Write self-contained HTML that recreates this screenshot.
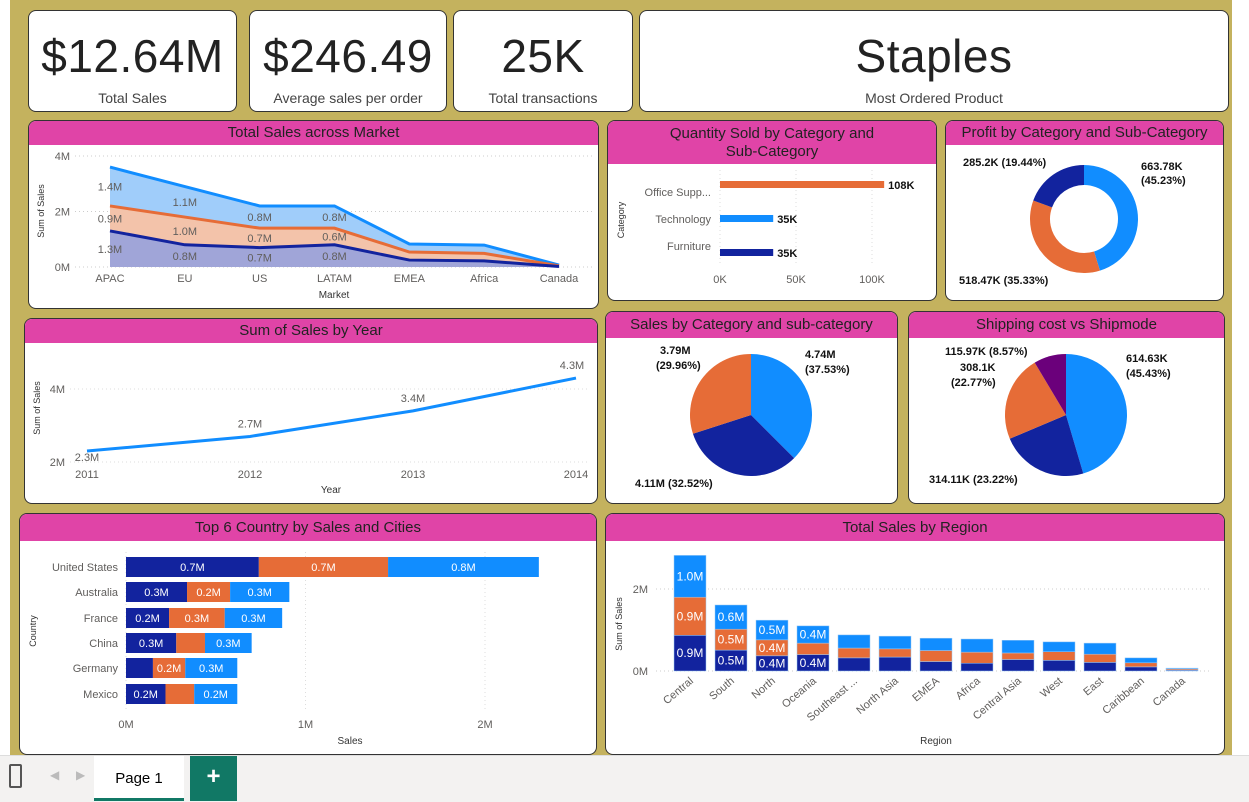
<!DOCTYPE html>
<html><head><meta charset="utf-8">
<style>
*{box-sizing:border-box;margin:0;padding:0}
body{width:1249px;height:802px;overflow:hidden;background:#fff;font-family:"Liberation Sans",sans-serif;position:relative}
#canvas{position:absolute;left:10px;top:0;width:1222px;height:755px;background:#c4b25e}
.card{position:absolute;background:#fff;border:1px solid #333;border-radius:8px;overflow:hidden}
.hdr{background:#e044a7;color:#222;text-align:center;font-size:15px;line-height:24px}
.kv{position:absolute;width:100%;text-align:center;font-size:46px;top:18px;color:#222;letter-spacing:0.5px}
.kl{position:absolute;width:100%;text-align:center;font-size:14px;top:79px;color:#444}
svg{position:absolute;left:0;top:0}
#bottom{position:absolute;left:0;top:755px;width:1249px;height:47px;background:#f3f2f1;border-top:1px solid #ddd}
</style></head><body>
<div id="canvas"></div>
<div class="card" style="left:28px;top:10px;width:209px;height:102px"><div class="kv">$12.64M</div><div class="kl">Total Sales</div></div>
<div class="card" style="left:249px;top:10px;width:198px;height:102px"><div class="kv">$246.49</div><div class="kl">Average sales per order</div></div>
<div class="card" style="left:453px;top:10px;width:180px;height:102px"><div class="kv">25K</div><div class="kl">Total transactions</div></div>
<div class="card" style="left:639px;top:10px;width:590px;height:102px"><div class="kv">Staples</div><div class="kl">Most Ordered Product</div></div>

<div class="card" style="left:28px;top:120px;width:571px;height:189px"><div class="hdr">Total Sales across Market</div></div>
<div class="card" style="left:607px;top:120px;width:330px;height:181px"><div class="hdr" style="height:43px;line-height:18px;padding-top:4px">Quantity Sold by Category and<br>Sub-Category</div></div>
<div class="card" style="left:945px;top:120px;width:279px;height:181px"><div class="hdr">Profit by Category and Sub-Category</div></div>
<div class="card" style="left:24px;top:318px;width:574px;height:186px"><div class="hdr">Sum of Sales by Year</div></div>
<div class="card" style="left:605px;top:311px;width:293px;height:193px"><div class="hdr" style="line-height:26px;height:26px">Sales by Category and sub-category</div></div>
<div class="card" style="left:908px;top:311px;width:317px;height:193px"><div class="hdr" style="line-height:26px;height:26px">Shipping cost vs Shipmode</div></div>
<div class="card" style="left:19px;top:513px;width:578px;height:242px"><div class="hdr" style="line-height:27px;height:27px">Top 6 Country by Sales and Cities</div></div>
<div class="card" style="left:605px;top:513px;width:620px;height:242px"><div class="hdr" style="line-height:27px;height:27px">Total Sales by Region</div></div>

<div id="bottom">
<div style="position:absolute;left:9px;top:8px;width:13px;height:24px;border:2px solid #555;border-radius:2px"></div>
<div style="position:absolute;left:50px;top:12px;color:#bbb;font-size:12px">◀</div>
<div style="position:absolute;left:76px;top:12px;color:#bbb;font-size:12px">▶</div>
<div style="position:absolute;left:94px;top:0;width:90px;height:45px;background:#fff;border-bottom:3px solid #117865;text-align:center;line-height:45px;font-size:15px">Page 1</div>
<div style="position:absolute;left:190px;top:0;width:47px;height:45px;background:#117865;color:#fff;text-align:center;line-height:42px;font-size:24px;font-weight:bold">+</div>
</div>

<svg id="s" width="1249" height="802"></svg>
<script>
const NAVY='#12239e',ORANGE='#e66c37',BLUE='#118dff',PURPLE='#6b007b';
// Market
const markets=['APAC','EU','US','LATAM','EMEA','Africa','Canada'];
const mkNavy=[1.3,0.8,0.7,0.8,0.25,0.22,0.02];
const mkOrange=[0.9,1.0,0.7,0.6,0.29,0.27,0.02];
const mkBlue=[1.4,1.1,0.8,0.8,0.29,0.30,0.03];
const mkTicks=[0,2,4];
// Year
const years=['2011','2012','2013','2014'];
const yearSales=[2.3,2.7,3.4,4.3];
const yearTicks=[2,4];
// Quantity
const qtyCats=['Office Supp...','Technology','Furniture'];
const qtyVals=[108,35,35];
const qtyTicks=[0,50,100];
// Profit donut
const profitVals=[663.78,518.47,285.2];
// Sales pie
const salesPieVals=[4.74,4.11,3.79];
// Shipping pie
const shipVals=[614.63,314.11,308.1,115.97];
// Country
const countries=['United States','Australia','France','China','Germany','Mexico'];
const ctNavy=[0.74,0.34,0.24,0.28,0.15,0.22];
const ctOrange=[0.72,0.24,0.31,0.16,0.18,0.16];
const ctBlue=[0.84,0.33,0.32,0.26,0.29,0.24];
const ctTicks=[0,1,2];
// Region
const regions=['Central','South','North','Oceania','Southeast ...','North Asia','EMEA','Africa','Central Asia','West','East','Caribbean','Canada'];
const rgNavy=[0.87,0.51,0.37,0.40,0.32,0.34,0.23,0.19,0.28,0.26,0.21,0.10,0.02];
const rgOrange=[0.93,0.51,0.39,0.28,0.24,0.20,0.27,0.27,0.16,0.21,0.20,0.10,0.03];
const rgBlue=[1.02,0.59,0.48,0.42,0.32,0.31,0.30,0.32,0.31,0.24,0.27,0.12,0.02];
const rgTicks=[0,2];

const S=document.getElementById('s');const NS='http://www.w3.org/2000/svg';
function mk(t,a,txt){const e=document.createElementNS(NS,t);for(const k in a)e.setAttribute(k,a[k]);if(txt!==undefined)e.textContent=txt;S.appendChild(e);return e;}
function fmt(v){return v.toFixed(1)+'M';}
function T(x,y,s,o){o=o||{};return mk('text',Object.assign({x:x,y:y,'font-size':o.fs||11,fill:o.fill||'#605e5c','text-anchor':o.a||'middle','font-family':'Liberation Sans, sans-serif','font-weight':o.fw||'normal'},o.tr?{transform:o.tr}:{}),s);}

// ---- Market area chart
{const mx=i=>110+i*(559-110)/6, my=v=>267-v*27.75;
mkTicks.forEach(t=>{mk('line',{x1:75,x2:592,y1:my(t),y2:my(t),stroke:'#ccc','stroke-dasharray':'1 3'});
const e=T(70,my(t)+4,t+'M',{a:'end'});});
const c1=mkNavy,c2=mkNavy.map((v,i)=>v+mkOrange[i]),c3=c2.map((v,i)=>v+mkBlue[i]);
const layers=[[c2,c3,'#a0cdfa',BLUE],[c1,c2,'#f3c3aa',ORANGE],[null,c1,'#a0a5d8',NAVY]];
layers.forEach(([lo,hi,f,s],li)=>{let d='';hi.forEach((v,i)=>d+=(i?'L':'M')+mx(i)+','+my(v));
for(let i=markets.length-1;i>=0;i--)d+='L'+mx(i)+','+my(lo?lo[i]:0);
const a=mk('path',{d:d+'Z',fill:f});});
[[c3,BLUE],[c2,ORANGE],[c1,NAVY]].forEach(([arr,s],li)=>{const l=mk('polyline',{points:arr.map((v,i)=>mx(i)+','+my(v)).join(' '),fill:'none',stroke:s,'stroke-width':3});});
markets.forEach((m,i)=>{const e=T(mx(i),282,m);
if(i<4){[[mkNavy,0,c1],[mkOrange,c1,c2],[mkBlue,c2,c3]].forEach(([arr,lo,hi])=>{const l=(lo?lo[i]:0);const v=T(mx(i),my((l+hi[i])/2)+4,fmt(arr[i]));});}});
const xt=T(334,298,'Market',{fs:10,fill:'#333'});
const yt=T(0,0,'Sum of Sales',{fs:9,fill:'#333',tr:'translate(44,211) rotate(-90)'});}

// ---- Year line
{const yx=i=>87+i*(576-87)/3, yy=v=>462-(v-2)*36.5;
yearTicks.forEach(t=>{mk('line',{x1:70,x2:590,y1:yy(t),y2:yy(t),stroke:'#ddd','stroke-dasharray':'1 3'});const e=T(65,yy(t)+4,t+'M',{a:'end'});});
const l=mk('polyline',{points:yearSales.map((v,i)=>yx(i)+','+yy(v)).join(' '),fill:'none',stroke:BLUE,'stroke-width':3});
years.forEach((y,i)=>{const e=T(yx(i),478,y);
const v=T(yx(i)-(i==3?4:0),yy(yearSales[i])-(i==0?-10:9),yearSales[i].toFixed(1)+'M');});
const xt=T(331,493,'Year',{fs:10,fill:'#333'});
const yt=T(0,0,'Sum of Sales',{fs:9,fill:'#333',tr:'translate(40,408) rotate(-90)'});}

// ---- Quantity bars
{const qx=v=>720+v*1.52, cols=[ORANGE,BLUE,NAVY], ys=[185,219,253];
qtyTicks.forEach(t=>{mk('line',{x1:qx(t),x2:qx(t),y1:170,y2:265,stroke:'#ddd','stroke-dasharray':'1 3'});const e=T(qx(t),283,t+'K');});
qtyCats.forEach((c,i)=>{const r=mk('rect',{x:720,y:ys[i]-4,width:qx(qtyVals[i])-720,height:7,fill:cols[i]});
const e=T(711,ys[i]+(i==0?11:4)-(i==2?7:0),c,{a:'end'});
const v=T(qx(qtyVals[i])+4,ys[i]+4,qtyVals[i]+'K',{a:'start',fill:'#111',fw:'bold'});});
const yt=T(0,0,'Category',{fs:9,fill:'#333',tr:'translate(624,220) rotate(-90)'});}

// ---- Pie helper
function pie(cx,cy,rx,ry,ir,vals,cols,name){const tot=vals.reduce((a,b)=>a+b,0);let a0=-Math.PI/2;
vals.forEach((v,i)=>{const a1=a0+v/tot*2*Math.PI, lg=(a1-a0)>Math.PI?1:0;
const P=(a,r1,r2)=>(cx+r1*Math.cos(a))+','+(cy+r2*Math.sin(a));
let d;if(ir){d='M'+P(a0,rx,ry)+'A'+rx+','+ry+' 0 '+lg+' 1 '+P(a1,rx,ry)+'L'+P(a1,ir,ir)+'A'+ir+','+ir+' 0 '+lg+' 0 '+P(a0,ir,ir)+'Z';}
else d='M'+cx+','+cy+'L'+P(a0,rx,ry)+'A'+rx+','+ry+' 0 '+lg+' 1 '+P(a1,rx,ry)+'Z';
const p=mk('path',{d:d,fill:cols[i]});a0=a1;});}
pie(1084,219,54,54,34,profitVals,[BLUE,ORANGE,NAVY],'profit-donut-slice');
pie(751,415,61,61,0,salesPieVals,[BLUE,NAVY,ORANGE],'sales-pie-slice');
pie(1066,415,61,61,0,shipVals,[BLUE,NAVY,ORANGE,PURPLE],'shipping-pie-slice');
const B={fill:'#111',fw:'bold'};
[[1141,170,'663.78K'],[1141,184,'(45.23%)'],[963,166,'285.2K (19.44%)'],[959,284,'518.47K (35.33%)'],
[805,358,'4.74M'],[805,373,'(37.53%)'],[660,354,'3.79M'],[656,369,'(29.96%)'],[635,487,'4.11M (32.52%)'],
[1126,362,'614.63K'],[1126,377,'(45.43%)'],[945,355,'115.97K (8.57%)'],[960,371,'308.1K'],[951,386,'(22.77%)'],[929,483,'314.11K (23.22%)']]
.forEach(([x,y,s])=>{const e=T(x,y,s,Object.assign({a:'start'},B));});

// ---- Country bars
{const cx=v=>126+v*179.5, ys=[567,592,618,643,668,694];
ctTicks.forEach(t=>{mk('line',{x1:cx(t),x2:cx(t),y1:552,y2:710,stroke:'#ddd','stroke-dasharray':'1 3'});const e=T(cx(t),728,t+'M');});
countries.forEach((c,i)=>{let x0=0;[[ctNavy,NAVY],[ctOrange,ORANGE],[ctBlue,BLUE]].forEach(([arr,col])=>{const v=arr[i];
const r=mk('rect',{x:cx(x0),y:ys[i]-10,width:v*179.5,height:20,fill:col});
if(v>=0.17){const t=T(cx(x0+v/2),ys[i]+4,fmt(v),{fill:'#fff'});}x0+=v;});
const e=T(118,ys[i]+4,c,{a:'end'});});
const xt=T(350,744,'Sales',{fs:10,fill:'#333'});
const yt=T(0,0,'Country',{fs:9,fill:'#333',tr:'translate(36,631) rotate(-90)'});}

// ---- Region bars
{const rx=i=>674+i*41, ry=v=>671-v*41, w=32;
rgTicks.forEach(t=>{mk('line',{x1:656,x2:1212,y1:ry(t),y2:ry(t),stroke:'#ccc','stroke-dasharray':'1 3'});const e=T(648,ry(t)+4,t+'M',{a:'end'});});
regions.forEach((r,i)=>{let y0=0;[[rgNavy,NAVY],[rgOrange,ORANGE],[rgBlue,BLUE]].forEach(([arr,col])=>{const v=arr[i];
const b=mk('rect',{x:rx(i),y:ry(y0+v),width:w,height:v*41,fill:col,stroke:'#9ecbf5','stroke-width':0.5});
if(i<4&&v>=0.35){const t=T(rx(i)+w/2,ry(y0+v/2)+4,fmt(v),{fill:'#fff',fs:12});}y0+=v;});
const e=T(rx(i)+w/2+4,682,r,{a:'end',tr:'rotate(-40 '+(rx(i)+w/2+4)+' 682)'});});
const xt=T(936,744,'Region',{fs:10,fill:'#333'});
const yt=T(0,0,'Sum of Sales',{fs:9,fill:'#333',tr:'translate(622,624) rotate(-90)'});}
</script>
</body></html>
